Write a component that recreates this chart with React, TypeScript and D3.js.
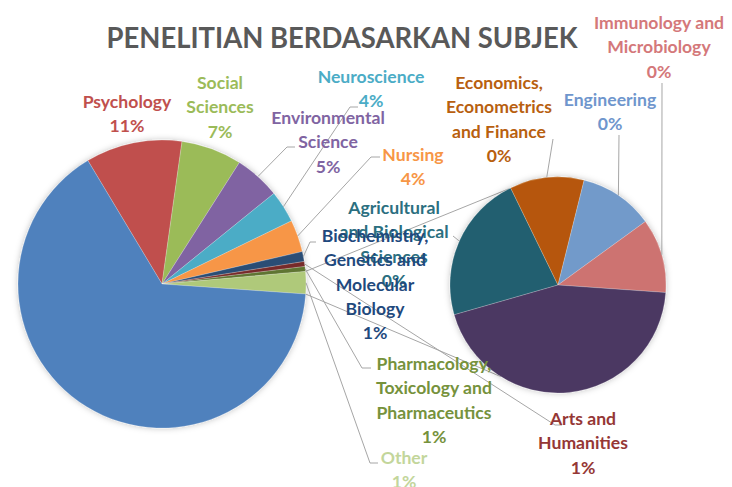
import React from "react";
import * as d3 from "d3";

const width = 732;
const height = 487;

// main pie, clockwise from the Psychology edge
const mainNames = [
  "Psychology",
  "Social Sciences",
  "Environmental Science",
  "Neuroscience",
  "Nursing",
  "Biochemistry, Genetics and Molecular Biology",
  "Arts and Humanities",
  "Pharmacology, Toxicology and Pharmaceutics",
  "Other",
  "Medicine",
];
const mainValues = [39, 24.5, 18.5, 13, 13, 4, 2, 2, 9, 235];
const mainPercents = ["11%", "7%", "5%", "4%", "4%", "1%", "1%", "1%", "1%", ""];
const mainColors = ["#C0504D", "#9BBB59", "#8064A2", "#4BACC6", "#F79646", "#2C4D75", "#772C2A", "#5F7530", "#AFC97A", "#4F81BD"];
const mainTextColors = ["#C0504D", "#9BBB59", "#8064A2", "#4BACC6", "#F79646", "#1F497D", "#953735", "#76923C", "#C3D69B", "#4F81BD"];

// secondary pie (split of "Other")
const subNames = [
  "Agricultural and Biological Sciences",
  "Economics, Econometrics and Finance",
  "Engineering",
  "Immunology and Microbiology",
  "Multidisciplinary",
];
const subValues = [2, 1, 1, 1, 4];
const subPercents = ["0%", "0%", "0%", "0%", ""];
const subColors = ["#215F70", "#B65708", "#729ACA", "#CD7371", "#4B3862"];
const subTextColors = ["#2B6F80", "#B8600F", "#6F96CD", "#D4787A", "#4B3862"];

// label text lines
const labelLines: Record<string, string[]> = {
  "Psychology": ["Psychology"],
  "Social Sciences": ["Social", "Sciences"],
  "Environmental Science": ["Environmental", "Science"],
  "Neuroscience": ["Neuroscience"],
  "Nursing": ["Nursing"],
  "Biochemistry, Genetics and Molecular Biology": ["Biochemistry,", "Genetics and", "Molecular", "Biology"],
  "Arts and Humanities": ["Arts and", "Humanities"],
  "Pharmacology, Toxicology and Pharmaceutics": ["Pharmacology,", "Toxicology and", "Pharmaceutics"],
  "Other": ["Other"],
  "Agricultural and Biological Sciences": ["Agricultural", "and Biological", "Sciences"],
  "Economics, Econometrics and Finance": ["Economics,", "Econometrics", "and Finance"],
  "Engineering": ["Engineering"],
  "Immunology and Microbiology": ["Immunology and", "Microbiology"],
};

// label layout: text centre x, first line y, leader elbow and end
type Lay = { x: number; y: number; elbow?: [number, number]; end?: [number, number] };
const layout: Record<string, Lay> = {
  "Psychology": { x: 127, y: 102 },
  "Social Sciences": { x: 220, y: 83 },
  "Environmental Science": { x: 328, y: 118, elbow: [287, 147], end: [295, 147] },
  "Neuroscience": { x: 371, y: 77, elbow: [350, 107], end: [358, 107] },
  "Nursing": { x: 413, y: 155, elbow: [371, 157], end: [380, 157] },
  "Biochemistry, Genetics and Molecular Biology": { x: 375, y: 236, elbow: [310, 242], end: [316, 242] },
  "Arts and Humanities": { x: 583, y: 419, elbow: [555, 425], end: [562, 425] },
  "Pharmacology, Toxicology and Pharmaceutics": { x: 434, y: 364, elbow: [362, 368], end: [371, 368] },
  "Other": { x: 404, y: 458, elbow: [370, 463], end: [378, 463] },
  "Agricultural and Biological Sciences": { x: 394, y: 208, elbow: [453, 236], end: [453, 236] },
  "Economics, Econometrics and Finance": { x: 499, y: 83, elbow: [553, 139], end: [553, 139] },
  "Engineering": { x: 610, y: 100, elbow: [619, 135], end: [619, 135] },
  "Immunology and Microbiology": { x: 659, y: 23, elbow: [662, 83], end: [662, 83] },
};

const mainCenter = { x: 162, y: 284 };
const mainR = 144;
const subCenter = { x: 558, y: 285 };
const subR = 108;
const rad = (d: number) => (d * Math.PI) / 180;
const seriesAttach = [333, 212];

const pt = (c: { x: number; y: number }, r: number, a: number): [number, number] => [
  c.x + r * Math.sin(a),
  c.y - r * Math.cos(a),
];

const fontFamily = "Lato, 'Open Sans', sans-serif";
const lineH = 24.3;

function Label({ name, pct, color }: { name: string; pct: string; color: string }) {
  const l = layout[name];
  const lines = [...labelLines[name], pct].filter((s) => s !== "");
  return (
    <text fill={color} textAnchor="middle" style={{ fontFamily, fontWeight: 700, fontSize: 17.6 }}>
      {lines.map((s, i) => (
        <tspan key={i} x={l.x} y={l.y + i * lineH} dy="0.35em">
          {s}
        </tspan>
      ))}
    </text>
  );
}

export default function App() {
  const mainPie = d3
    .pie<number>()
    .sort(null)
    .value((d) => d)
    .startAngle(rad(329))
    .endAngle(rad(329) + 2 * Math.PI)(mainValues);
  const subPie = d3
    .pie<number>()
    .sort(null)
    .value((d) => d)
    .startAngle(rad(254))
    .endAngle(rad(254) + 2 * Math.PI)(subValues);

  const mainArc = d3.arc<d3.PieArcDatum<number>>().innerRadius(0).outerRadius(mainR);
  const subArc = d3.arc<d3.PieArcDatum<number>>().innerRadius(0).outerRadius(subR);

  const otherIdx = mainNames.indexOf("Other");
  const other = mainPie[otherIdx];
  const seriesLines = [
    [pt(mainCenter, mainR, other.startAngle), pt(subCenter, subR, rad(seriesAttach[0]))],
    [pt(mainCenter, mainR, other.endAngle), pt(subCenter, subR, rad(seriesAttach[1]))],
  ];

  const leader = (c: { x: number; y: number }, r: number, a: d3.PieArcDatum<number>, name: string) => {
    const l = layout[name];
    if (!l || !l.elbow) return null;
    const s = pt(c, r, (a.startAngle + a.endAngle) / 2);
    const pts = [s, l.elbow, l.end || l.elbow];
    return <path key={name} d={d3.line()(pts as [number, number][]) || ""} fill="none" stroke="#A6A6A6" strokeWidth={1} />;
  };

  return (
    <svg width={width} height={height} style={{ position: "absolute", left: 0, top: 0, background: "#FFFFFF" }}>
      <defs>
        <filter id="shadow" x="-20%" y="-20%" width="140%" height="140%">
          <feDropShadow dx="0" dy="0" stdDeviation="3" floodColor="#000" floodOpacity="0.25" />
        </filter>
      </defs>
      <text
        x={342}
        y={38}
        dy="0.35em"
        textAnchor="middle"
        fill="#595959"
        textLength={471}
        lengthAdjust="spacingAndGlyphs"
        style={{ fontFamily, fontWeight: 700, fontSize: 28 }}
      >
        PENELITIAN BERDASARKAN SUBJEK
      </text>

      {seriesLines.map((p, i) => (
        <path key={i} d={d3.line()(p) || ""} stroke="#A6A6A6" strokeWidth={1} fill="none" />
      ))}

      <g transform={`translate(${mainCenter.x},${mainCenter.y})`} filter="url(#shadow)">
        {mainPie.map((a, i) => (
          <path key={i} d={mainArc(a) || ""} fill={mainColors[i]} stroke="#ffffff" strokeOpacity={0.35} strokeWidth={0.6} />
        ))}
      </g>
      <g transform={`translate(${subCenter.x},${subCenter.y})`} filter="url(#shadow)">
        {subPie.map((a, i) => (
          <path key={i} d={subArc(a) || ""} fill={subColors[i]} stroke="#ffffff" strokeOpacity={0.35} strokeWidth={0.6} />
        ))}
      </g>

      {mainPie.map((a, i) => leader(mainCenter, mainR, a, mainNames[i]))}
      {subPie.map((a, i) => leader(subCenter, subR, a, subNames[i]))}

      {subNames.map((n, i) =>
        layout[n] ? <Label key={n} name={n} pct={subPercents[i]} color={subTextColors[i]} /> : null
      )}
      {mainNames.map((n, i) =>
        layout[n] ? <Label key={n} name={n} pct={mainPercents[i]} color={mainTextColors[i]} /> : null
      )}
    </svg>
  );
}
